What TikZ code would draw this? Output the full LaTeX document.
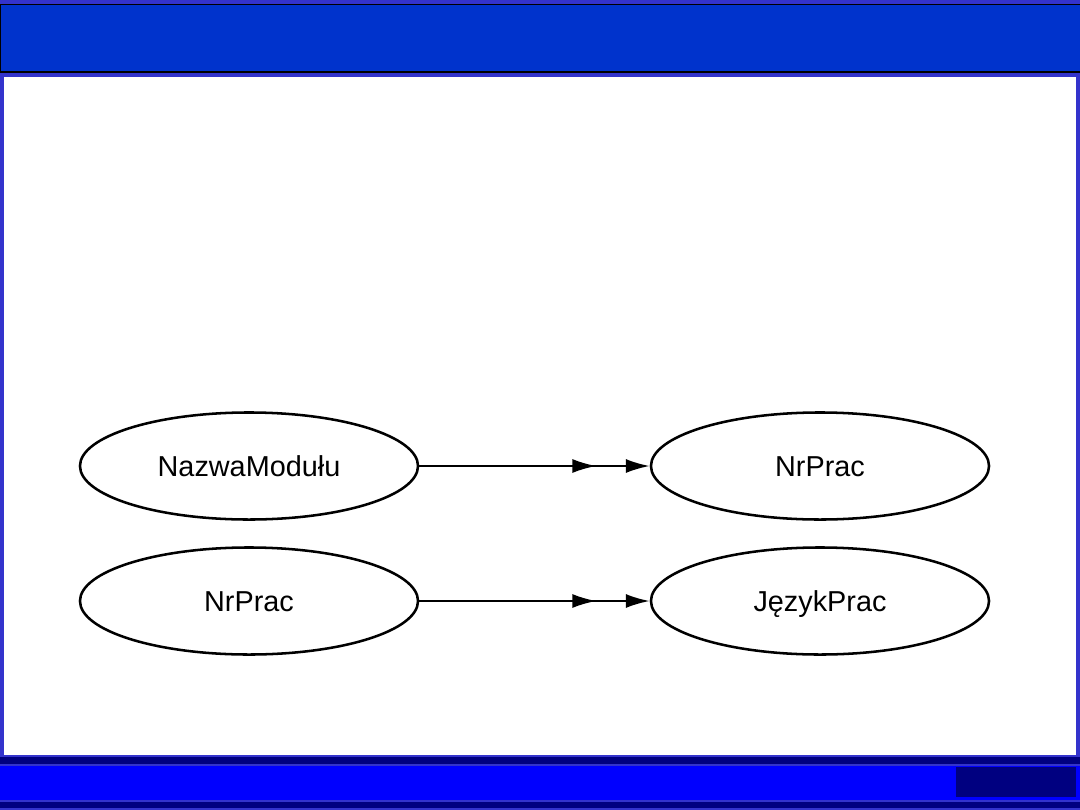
\documentclass[tikz,border=0pt]{standalone}
\usepackage{fontspec}
\setmainfont{Liberation Sans}
\usetikzlibrary{shapes.geometric,arrows.meta}
\definecolor{frameblue}{HTML}{3333CC}
\definecolor{titleblue}{HTML}{0033CC}
\definecolor{barblue}{HTML}{0000FF}
\definecolor{navy}{HTML}{000080}
\tikzset{
  attr/.style={ellipse,draw,line width=1.8pt,minimum width=8.45cm,minimum height=2.675cm,
    font=\fontsize{20.5}{24}\selectfont,inner sep=0pt,text height=14.8pt,text depth=0pt},
  dep/.style={line width=1.5pt,
    -{Latex[length=17pt,width=10pt,sep=21pt] Latex[length=17pt,width=10pt]}}
}
\begin{document}
\begin{tikzpicture}[x=0.025cm,y=-0.025cm]
% Slide frame
\fill[frameblue] (0,0) rectangle (1080,810);
\useasboundingbox (0,0) rectangle (1080,810);
\filldraw[fill=titleblue,draw=black,line width=0.6pt] (0,4) rectangle (1080,72);
\draw[line width=1.5pt] (0,72) -- (1080,72);
\fill[white] (4,77) rectangle (1076,755);
\fill[navy] (0,757) rectangle (1080,764);
\fill[barblue] (0,766) rectangle (1080,800);
\fill[navy] (956,767) rectangle (1076,797);
\fill[navy] (0,802) rectangle (1080,808);

% Nodes (attributes)
\node[attr] (nazwa) at (249,466) {NazwaModułu};
\node[attr] (nrprac) at (820,466) {NrPrac};
\node[attr] (nrprac2) at (249,601) {NrPrac};
\node[attr] (jezyk) at (820,601) {JęzykPrac};

% Edges (dependencies)
\draw[dep] (nazwa) -- (nrprac);
\draw[dep] (nrprac2) -- (jezyk);
\end{tikzpicture}
\end{document}
